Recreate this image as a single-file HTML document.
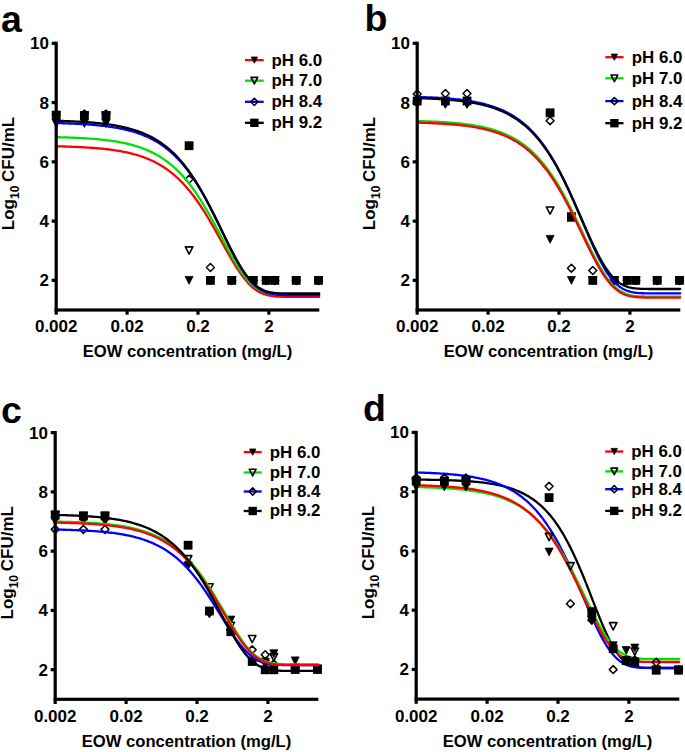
<!DOCTYPE html>
<html><head><meta charset="utf-8"><style>
html,body{margin:0;padding:0;background:#fff;width:685px;height:752px;overflow:hidden}
svg{display:block}
</style></head><body>
<svg width="685" height="752" viewBox="0 0 685 752" font-family='"Liberation Sans", sans-serif' font-weight="bold">
<g><path d="M52.2 119.6L60.2 119.6L56.2 127.4Z" fill="#000" stroke="#000" stroke-width="0.8" stroke-linejoin="round"/><path d="M80.4 119.6L88.4 119.6L84.4 127.4Z" fill="#000" stroke="#000" stroke-width="0.8" stroke-linejoin="round"/><path d="M102 119.6L110 119.6L106 127.4Z" fill="#000" stroke="#000" stroke-width="0.8" stroke-linejoin="round"/><path d="M185.1 276.5L193.1 276.5L189.1 284.3Z" fill="#000" stroke="#000" stroke-width="0.8" stroke-linejoin="round"/><path d="M206.4 276.5L214.4 276.5L210.4 284.3Z" fill="#000" stroke="#000" stroke-width="0.8" stroke-linejoin="round"/><path d="M227.8 276.5L235.8 276.5L231.8 284.3Z" fill="#000" stroke="#000" stroke-width="0.8" stroke-linejoin="round"/><path d="M249.2 276.5L257.2 276.5L253.2 284.3Z" fill="#000" stroke="#000" stroke-width="0.8" stroke-linejoin="round"/><path d="M262.2 276.5L270.2 276.5L266.2 284.3Z" fill="#000" stroke="#000" stroke-width="0.8" stroke-linejoin="round"/><path d="M270.8 276.5L278.8 276.5L274.8 284.3Z" fill="#000" stroke="#000" stroke-width="0.8" stroke-linejoin="round"/><path d="M292.2 276.5L300.2 276.5L296.2 284.3Z" fill="#000" stroke="#000" stroke-width="0.8" stroke-linejoin="round"/><path d="M314.5 276.5L322.5 276.5L318.5 284.3Z" fill="#000" stroke="#000" stroke-width="0.8" stroke-linejoin="round"/><path d="M52.45 111.65L59.95 111.65L56.2 118.95Z" fill="none" stroke="#000" stroke-width="1.6" stroke-linejoin="round"/><path d="M80.65 111.85L88.15 111.85L84.4 119.15Z" fill="none" stroke="#000" stroke-width="1.6" stroke-linejoin="round"/><path d="M102.25 111.85L109.75 111.85L106 119.15Z" fill="none" stroke="#000" stroke-width="1.6" stroke-linejoin="round"/><path d="M185.35 246.85L192.85 246.85L189.1 254.15Z" fill="none" stroke="#000" stroke-width="1.6" stroke-linejoin="round"/><path d="M206.65 276.75L214.15 276.75L210.4 284.05Z" fill="none" stroke="#000" stroke-width="1.6" stroke-linejoin="round"/><path d="M228.05 276.75L235.55 276.75L231.8 284.05Z" fill="none" stroke="#000" stroke-width="1.6" stroke-linejoin="round"/><path d="M249.45 276.75L256.95 276.75L253.2 284.05Z" fill="none" stroke="#000" stroke-width="1.6" stroke-linejoin="round"/><path d="M262.45 276.75L269.95 276.75L266.2 284.05Z" fill="none" stroke="#000" stroke-width="1.6" stroke-linejoin="round"/><path d="M271.05 276.75L278.55 276.75L274.8 284.05Z" fill="none" stroke="#000" stroke-width="1.6" stroke-linejoin="round"/><path d="M292.45 276.75L299.95 276.75L296.2 284.05Z" fill="none" stroke="#000" stroke-width="1.6" stroke-linejoin="round"/><path d="M314.75 276.75L322.25 276.75L318.5 284.05Z" fill="none" stroke="#000" stroke-width="1.6" stroke-linejoin="round"/><path d="M56.2 110.55L60.15 114.5L56.2 118.45L52.25 114.5Z" fill="none" stroke="#000" stroke-width="1.5" stroke-linejoin="round"/><path d="M84.4 110.05L88.35 114L84.4 117.95L80.45 114Z" fill="none" stroke="#000" stroke-width="1.5" stroke-linejoin="round"/><path d="M106 110.05L109.95 114L106 117.95L102.05 114Z" fill="none" stroke="#000" stroke-width="1.5" stroke-linejoin="round"/><path d="M189.1 175.35L193.05 179.3L189.1 183.25L185.15 179.3Z" fill="none" stroke="#000" stroke-width="1.5" stroke-linejoin="round"/><path d="M210.4 263.55L214.35 267.5L210.4 271.45L206.45 267.5Z" fill="none" stroke="#000" stroke-width="1.5" stroke-linejoin="round"/><path d="M231.8 276.45L235.75 280.4L231.8 284.35L227.85 280.4Z" fill="none" stroke="#000" stroke-width="1.5" stroke-linejoin="round"/><path d="M253.2 276.45L257.15 280.4L253.2 284.35L249.25 280.4Z" fill="none" stroke="#000" stroke-width="1.5" stroke-linejoin="round"/><path d="M266.2 276.45L270.15 280.4L266.2 284.35L262.25 280.4Z" fill="none" stroke="#000" stroke-width="1.5" stroke-linejoin="round"/><path d="M274.8 276.45L278.75 280.4L274.8 284.35L270.85 280.4Z" fill="none" stroke="#000" stroke-width="1.5" stroke-linejoin="round"/><path d="M296.2 276.45L300.15 280.4L296.2 284.35L292.25 280.4Z" fill="none" stroke="#000" stroke-width="1.5" stroke-linejoin="round"/><path d="M318.5 276.45L322.45 280.4L318.5 284.35L314.55 280.4Z" fill="none" stroke="#000" stroke-width="1.5" stroke-linejoin="round"/><rect x="51.8" y="110.9" width="8.8" height="8.8" fill="#000"/><rect x="80" y="111.1" width="8.8" height="8.8" fill="#000"/><rect x="101.6" y="111.1" width="8.8" height="8.8" fill="#000"/><rect x="184.7" y="141.3" width="8.8" height="8.8" fill="#000"/><rect x="206" y="276" width="8.8" height="8.8" fill="#000"/><rect x="227.4" y="276" width="8.8" height="8.8" fill="#000"/><rect x="248.8" y="276" width="8.8" height="8.8" fill="#000"/><rect x="261.8" y="276" width="8.8" height="8.8" fill="#000"/><rect x="270.4" y="276" width="8.8" height="8.8" fill="#000"/><rect x="291.8" y="276" width="8.8" height="8.8" fill="#000"/><rect x="314.1" y="276" width="8.8" height="8.8" fill="#000"/><path d="M56.2,146.31 L57.84,146.35 L59.49,146.39 L61.13,146.43 L62.78,146.47 L64.42,146.52 L66.06,146.57 L67.71,146.63 L69.35,146.68 L70.99,146.74 L72.64,146.8 L74.28,146.87 L75.93,146.94 L77.57,147.01 L79.21,147.09 L80.86,147.17 L82.5,147.25 L84.14,147.34 L85.79,147.44 L87.43,147.54 L89.08,147.65 L90.72,147.76 L92.36,147.87 L94.01,148 L95.65,148.13 L97.29,148.27 L98.94,148.41 L100.58,148.56 L102.22,148.72 L103.87,148.89 L105.51,149.07 L107.16,149.26 L108.8,149.46 L110.44,149.67 L112.09,149.89 L113.73,150.12 L115.38,150.36 L117.02,150.62 L118.66,150.89 L120.31,151.17 L121.95,151.47 L123.59,151.79 L125.24,152.12 L126.88,152.47 L128.53,152.84 L130.17,153.22 L131.81,153.63 L133.46,154.06 L135.1,154.51 L136.74,154.98 L138.39,155.48 L140.03,156 L141.68,156.55 L143.32,157.13 L144.96,157.73 L146.61,158.37 L148.25,159.04 L149.89,159.74 L151.54,160.48 L153.18,161.25 L154.82,162.06 L156.47,162.91 L158.11,163.8 L159.76,164.73 L161.4,165.7 L163.04,166.73 L164.69,167.79 L166.33,168.91 L167.98,170.08 L169.62,171.3 L171.26,172.58 L172.91,173.91 L174.55,175.3 L176.19,176.75 L177.84,178.26 L179.48,179.83 L181.12,181.46 L182.77,183.16 L184.41,184.93 L186.06,186.76 L187.7,188.66 L189.34,190.63 L190.99,192.67 L192.63,194.78 L194.27,196.96 L195.92,199.2 L197.56,201.52 L199.21,203.9 L200.85,206.35 L202.49,208.87 L204.14,211.44 L205.78,214.08 L207.43,216.77 L209.07,219.51 L210.71,222.31 L212.36,225.14 L214,228.02 L215.64,230.93 L217.29,233.86 L218.93,236.82 L220.57,239.79 L222.22,242.76 L223.86,245.72 L225.51,248.68 L227.15,251.61 L228.79,254.51 L230.44,257.36 L232.08,260.17 L233.73,262.91 L235.37,265.58 L237.01,268.17 L238.66,270.68 L240.3,273.08 L241.94,275.37 L243.59,277.56 L245.23,279.62 L246.88,281.56 L248.52,283.37 L250.16,285.05 L251.81,286.59 L253.45,288 L255.09,289.28 L256.74,290.43 L258.38,291.46 L260.02,292.37 L261.67,293.16 L263.31,293.85 L264.96,294.44 L266.6,294.93 L268.24,295.35 L269.89,295.69 L271.53,295.98 L273.18,296.2 L274.82,296.38 L276.46,296.52 L278.11,296.63 L279.75,296.71 L281.39,296.77 L283.04,296.81 L284.68,296.84 L286.32,296.86 L287.97,296.87 L289.61,296.88 L291.26,296.89 L292.9,296.89 L294.54,296.9 L296.19,296.9 L297.83,296.9 L299.48,296.9 L301.12,296.9 L302.76,296.9 L304.41,296.9 L306.05,296.9 L307.69,296.9 L309.34,296.9 L310.98,296.9 L312.62,296.9 L314.27,296.9 L315.91,296.9 L317.56,296.9 L319.2,296.9" fill="none" stroke="#ff0000" stroke-width="2.3" stroke-linecap="round"/><path d="M56.2,137.15 L57.84,137.19 L59.49,137.23 L61.13,137.28 L62.78,137.32 L64.42,137.37 L66.06,137.43 L67.71,137.48 L69.35,137.54 L70.99,137.6 L72.64,137.67 L74.28,137.74 L75.93,137.81 L77.57,137.89 L79.21,137.97 L80.86,138.06 L82.5,138.15 L84.14,138.24 L85.79,138.34 L87.43,138.45 L89.08,138.56 L90.72,138.68 L92.36,138.8 L94.01,138.93 L95.65,139.07 L97.29,139.22 L98.94,139.37 L100.58,139.53 L102.22,139.7 L103.87,139.88 L105.51,140.07 L107.16,140.27 L108.8,140.48 L110.44,140.7 L112.09,140.93 L113.73,141.17 L115.38,141.43 L117.02,141.7 L118.66,141.99 L120.31,142.29 L121.95,142.6 L123.59,142.94 L125.24,143.29 L126.88,143.66 L128.53,144.05 L130.17,144.45 L131.81,144.88 L133.46,145.33 L135.1,145.81 L136.74,146.31 L138.39,146.83 L140.03,147.39 L141.68,147.97 L143.32,148.58 L144.96,149.22 L146.61,149.89 L148.25,150.59 L149.89,151.33 L151.54,152.11 L153.18,152.93 L154.82,153.78 L156.47,154.68 L158.11,155.61 L159.76,156.6 L161.4,157.63 L163.04,158.71 L164.69,159.83 L166.33,161.01 L167.98,162.25 L169.62,163.54 L171.26,164.88 L172.91,166.29 L174.55,167.75 L176.19,169.28 L177.84,170.87 L179.48,172.53 L181.12,174.25 L182.77,176.04 L184.41,177.9 L186.06,179.83 L187.7,181.84 L189.34,183.91 L190.99,186.06 L192.63,188.28 L194.27,190.57 L195.92,192.94 L197.56,195.37 L199.21,197.88 L200.85,200.46 L202.49,203.1 L204.14,205.81 L205.78,208.58 L207.43,211.41 L209.07,214.29 L210.71,217.23 L212.36,220.21 L214,223.23 L215.64,226.28 L217.29,229.36 L218.93,232.45 L220.57,235.56 L222.22,238.68 L223.86,241.78 L225.51,244.87 L227.15,247.94 L228.79,250.97 L230.44,253.95 L232.08,256.88 L233.73,259.74 L235.37,262.53 L237.01,265.23 L238.66,267.84 L240.3,270.34 L241.94,272.72 L243.59,274.99 L245.23,277.13 L246.88,279.14 L248.52,281.01 L250.16,282.75 L251.81,284.35 L253.45,285.8 L255.09,287.12 L256.74,288.31 L258.38,289.36 L260.02,290.29 L261.67,291.1 L263.31,291.81 L264.96,292.41 L266.6,292.92 L268.24,293.34 L269.89,293.69 L271.53,293.97 L273.18,294.2 L274.82,294.38 L276.46,294.52 L278.11,294.63 L279.75,294.71 L281.39,294.77 L283.04,294.81 L284.68,294.84 L286.32,294.86 L287.97,294.88 L289.61,294.88 L291.26,294.89 L292.9,294.89 L294.54,294.9 L296.19,294.9 L297.83,294.9 L299.48,294.9 L301.12,294.9 L302.76,294.9 L304.41,294.9 L306.05,294.9 L307.69,294.9 L309.34,294.9 L310.98,294.9 L312.62,294.9 L314.27,294.9 L315.91,294.9 L317.56,294.9 L319.2,294.9" fill="none" stroke="#00e000" stroke-width="2.3" stroke-linecap="round"/><path d="M56.2,123.09 L57.84,123.13 L59.49,123.17 L61.13,123.22 L62.78,123.27 L64.42,123.33 L66.06,123.38 L67.71,123.44 L69.35,123.5 L70.99,123.57 L72.64,123.64 L74.28,123.71 L75.93,123.79 L77.57,123.87 L79.21,123.96 L80.86,124.05 L82.5,124.14 L84.14,124.24 L85.79,124.35 L87.43,124.46 L89.08,124.58 L90.72,124.7 L92.36,124.83 L94.01,124.97 L95.65,125.11 L97.29,125.27 L98.94,125.43 L100.58,125.6 L102.22,125.78 L103.87,125.97 L105.51,126.16 L107.16,126.37 L108.8,126.59 L110.44,126.83 L112.09,127.07 L113.73,127.33 L115.38,127.6 L117.02,127.89 L118.66,128.19 L120.31,128.51 L121.95,128.84 L123.59,129.19 L125.24,129.56 L126.88,129.95 L128.53,130.36 L130.17,130.79 L131.81,131.24 L133.46,131.72 L135.1,132.22 L136.74,132.75 L138.39,133.3 L140.03,133.89 L141.68,134.5 L143.32,135.14 L144.96,135.82 L146.61,136.53 L148.25,137.27 L149.89,138.05 L151.54,138.88 L153.18,139.74 L154.82,140.64 L156.47,141.59 L158.11,142.58 L159.76,143.62 L161.4,144.71 L163.04,145.85 L164.69,147.05 L166.33,148.3 L167.98,149.6 L169.62,150.97 L171.26,152.4 L172.91,153.89 L174.55,155.44 L176.19,157.06 L177.84,158.75 L179.48,160.51 L181.12,162.34 L182.77,164.25 L184.41,166.23 L186.06,168.28 L187.7,170.42 L189.34,172.63 L190.99,174.92 L192.63,177.29 L194.27,179.74 L195.92,182.26 L197.56,184.87 L199.21,187.55 L200.85,190.31 L202.49,193.15 L204.14,196.06 L205.78,199.03 L207.43,202.08 L209.07,205.18 L210.71,208.35 L212.36,211.56 L214,214.83 L215.64,218.13 L217.29,221.47 L218.93,224.84 L220.57,228.22 L222.22,231.61 L223.86,235 L225.51,238.39 L227.15,241.75 L228.79,245.08 L230.44,248.36 L232.08,251.6 L233.73,254.77 L235.37,257.86 L237.01,260.86 L238.66,263.77 L240.3,266.57 L241.94,269.26 L243.59,271.81 L245.23,274.24 L246.88,276.52 L248.52,278.66 L250.16,280.65 L251.81,282.49 L253.45,284.17 L255.09,285.71 L256.74,287.09 L258.38,288.34 L260.02,289.44 L261.67,290.4 L263.31,291.25 L264.96,291.97 L266.6,292.59 L268.24,293.11 L269.89,293.54 L271.53,293.9 L273.18,294.18 L274.82,294.41 L276.46,294.59 L278.11,294.73 L279.75,294.84 L281.39,294.92 L283.04,294.97 L284.68,295.01 L286.32,295.04 L287.97,295.06 L289.61,295.08 L291.26,295.09 L292.9,295.09 L294.54,295.1 L296.19,295.1 L297.83,295.1 L299.48,295.1 L301.12,295.1 L302.76,295.1 L304.41,295.1 L306.05,295.1 L307.69,295.1 L309.34,295.1 L310.98,295.1 L312.62,295.1 L314.27,295.1 L315.91,295.1 L317.56,295.1 L319.2,295.1" fill="none" stroke="#0000ff" stroke-width="2.3" stroke-linecap="round"/><path d="M56.2,120.81 L57.84,120.86 L59.49,120.9 L61.13,120.95 L62.78,121.01 L64.42,121.06 L66.06,121.12 L67.71,121.18 L69.35,121.25 L70.99,121.31 L72.64,121.39 L74.28,121.46 L75.93,121.54 L77.57,121.62 L79.21,121.71 L80.86,121.81 L82.5,121.91 L84.14,122.01 L85.79,122.12 L87.43,122.23 L89.08,122.36 L90.72,122.48 L92.36,122.62 L94.01,122.76 L95.65,122.91 L97.29,123.07 L98.94,123.24 L100.58,123.41 L102.22,123.6 L103.87,123.79 L105.51,124 L107.16,124.21 L108.8,124.44 L110.44,124.68 L112.09,124.94 L113.73,125.2 L115.38,125.48 L117.02,125.78 L118.66,126.09 L120.31,126.42 L121.95,126.76 L123.59,127.13 L125.24,127.51 L126.88,127.91 L128.53,128.33 L130.17,128.78 L131.81,129.25 L133.46,129.74 L135.1,130.26 L136.74,130.8 L138.39,131.38 L140.03,131.98 L141.68,132.61 L143.32,133.27 L144.96,133.97 L146.61,134.7 L148.25,135.47 L149.89,136.28 L151.54,137.13 L153.18,138.02 L154.82,138.95 L156.47,139.93 L158.11,140.95 L159.76,142.02 L161.4,143.15 L163.04,144.32 L164.69,145.55 L166.33,146.84 L167.98,148.18 L169.62,149.59 L171.26,151.06 L172.91,152.59 L174.55,154.19 L176.19,155.85 L177.84,157.59 L179.48,159.4 L181.12,161.28 L182.77,163.23 L184.41,165.26 L186.06,167.37 L187.7,169.56 L189.34,171.82 L190.99,174.17 L192.63,176.59 L194.27,179.1 L195.92,181.68 L197.56,184.34 L199.21,187.08 L200.85,189.89 L202.49,192.78 L204.14,195.74 L205.78,198.77 L207.43,201.86 L209.07,205.01 L210.71,208.22 L212.36,211.48 L214,214.78 L215.64,218.12 L217.29,221.48 L218.93,224.87 L220.57,228.28 L222.22,231.68 L223.86,235.09 L225.51,238.47 L227.15,241.83 L228.79,245.15 L230.44,248.42 L232.08,251.63 L233.73,254.77 L235.37,257.83 L237.01,260.79 L238.66,263.65 L240.3,266.4 L241.94,269.02 L243.59,271.51 L245.23,273.87 L246.88,276.08 L248.52,278.14 L250.16,280.05 L251.81,281.81 L253.45,283.42 L255.09,284.88 L256.74,286.19 L258.38,287.35 L260.02,288.38 L261.67,289.28 L263.31,290.06 L264.96,290.72 L266.6,291.29 L268.24,291.76 L269.89,292.15 L271.53,292.46 L273.18,292.72 L274.82,292.92 L276.46,293.07 L278.11,293.19 L279.75,293.28 L281.39,293.35 L283.04,293.4 L284.68,293.43 L286.32,293.46 L287.97,293.47 L289.61,293.48 L291.26,293.49 L292.9,293.49 L294.54,293.5 L296.19,293.5 L297.83,293.5 L299.48,293.5 L301.12,293.5 L302.76,293.5 L304.41,293.5 L306.05,293.5 L307.69,293.5 L309.34,293.5 L310.98,293.5 L312.62,293.5 L314.27,293.5 L315.91,293.5 L317.56,293.5 L319.2,293.5" fill="none" stroke="#000000" stroke-width="2.3" stroke-linecap="round"/><rect x="54.6" y="41.73" width="3.2" height="272.97" fill="#000"/><rect x="54.6" y="308.4" width="264.7" height="3.2" fill="#000"/><rect x="51.7" y="41.73" width="4.5" height="3.2" fill="#000"/><text x="49" y="49.33" font-size="17" text-anchor="end">10</text><rect x="51.7" y="100.99" width="4.5" height="3.2" fill="#000"/><text x="49" y="108.59" font-size="17" text-anchor="end">8</text><rect x="51.7" y="160.25" width="4.5" height="3.2" fill="#000"/><text x="49" y="167.85" font-size="17" text-anchor="end">6</text><rect x="51.7" y="219.51" width="4.5" height="3.2" fill="#000"/><text x="49" y="227.11" font-size="17" text-anchor="end">4</text><rect x="51.7" y="278.77" width="4.5" height="3.2" fill="#000"/><text x="49" y="286.37" font-size="17" text-anchor="end">2</text><rect x="125.5" y="310" width="3.2" height="4.7" fill="#000"/><rect x="196.4" y="310" width="3.2" height="4.7" fill="#000"/><rect x="267.3" y="310" width="3.2" height="4.7" fill="#000"/><text x="56.2" y="332.4" font-size="17" text-anchor="middle">0.002</text><text x="127.1" y="332.4" font-size="17" text-anchor="middle">0.02</text><text x="198" y="332.4" font-size="17" text-anchor="middle">0.2</text><text x="268.9" y="332.4" font-size="17" text-anchor="middle">2</text><text x="187.5" y="357.4" font-size="16.9" text-anchor="middle" textLength="209.4" lengthAdjust="spacingAndGlyphs">EOW concentration (mg/L)</text><text transform="translate(13.8 173.5) rotate(-90)" font-size="17" text-anchor="middle">Log<tspan font-size="12" dy="5">10</tspan><tspan dy="-5" dx="-1"> CFU/mL</tspan></text><text x="1" y="32.2" font-size="37.5">a</text><rect x="245" y="58.95" width="18.7" height="2.3" fill="#ff0000"/><path d="M251.15 56.98L257.55 56.98L254.35 63.22Z" fill="#000" stroke="#000" stroke-width="0.8" stroke-linejoin="round"/><text x="271.5" y="65.5" font-size="15.8" textLength="50.6" lengthAdjust="spacingAndGlyphs">pH 6.0</text><rect x="245" y="79.55" width="18.7" height="2.3" fill="#00e000"/><path d="M250.97 77.42L257.73 77.42L254.35 83.98Z" fill="none" stroke="#000" stroke-width="1.6" stroke-linejoin="round"/><text x="271.5" y="86.1" font-size="15.8" textLength="50.6" lengthAdjust="spacingAndGlyphs">pH 7.0</text><rect x="245" y="100.65" width="18.7" height="2.3" fill="#0000ff"/><path d="M254.35 98.17L257.98 101.8L254.35 105.43L250.72 101.8Z" fill="none" stroke="#000" stroke-width="1.5" stroke-linejoin="round"/><text x="271.5" y="107.2" font-size="15.8" textLength="50.6" lengthAdjust="spacingAndGlyphs">pH 8.4</text><rect x="245" y="121.65" width="18.7" height="2.3" fill="#000000"/><rect x="250.17" y="118.62" width="8.36" height="8.36" fill="#000"/><text x="271.5" y="128.2" font-size="15.8" textLength="50.6" lengthAdjust="spacingAndGlyphs">pH 9.2</text></g>
<g><path d="M413.2 100.1L421.2 100.1L417.2 107.9Z" fill="#000" stroke="#000" stroke-width="0.8" stroke-linejoin="round"/><path d="M441.4 100.1L449.4 100.1L445.4 107.9Z" fill="#000" stroke="#000" stroke-width="0.8" stroke-linejoin="round"/><path d="M463 100.1L471 100.1L467 107.9Z" fill="#000" stroke="#000" stroke-width="0.8" stroke-linejoin="round"/><path d="M546.1 235.4L554.1 235.4L550.1 243.2Z" fill="#000" stroke="#000" stroke-width="0.8" stroke-linejoin="round"/><path d="M567.4 276.5L575.4 276.5L571.4 284.3Z" fill="#000" stroke="#000" stroke-width="0.8" stroke-linejoin="round"/><path d="M588.8 276.5L596.8 276.5L592.8 284.3Z" fill="#000" stroke="#000" stroke-width="0.8" stroke-linejoin="round"/><path d="M610.2 276.5L618.2 276.5L614.2 284.3Z" fill="#000" stroke="#000" stroke-width="0.8" stroke-linejoin="round"/><path d="M623.2 276.5L631.2 276.5L627.2 284.3Z" fill="#000" stroke="#000" stroke-width="0.8" stroke-linejoin="round"/><path d="M631.8 276.5L639.8 276.5L635.8 284.3Z" fill="#000" stroke="#000" stroke-width="0.8" stroke-linejoin="round"/><path d="M653.2 276.5L661.2 276.5L657.2 284.3Z" fill="#000" stroke="#000" stroke-width="0.8" stroke-linejoin="round"/><path d="M675.5 276.5L683.5 276.5L679.5 284.3Z" fill="#000" stroke="#000" stroke-width="0.8" stroke-linejoin="round"/><path d="M413.45 100.35L420.95 100.35L417.2 107.65Z" fill="none" stroke="#000" stroke-width="1.6" stroke-linejoin="round"/><path d="M441.65 100.35L449.15 100.35L445.4 107.65Z" fill="none" stroke="#000" stroke-width="1.6" stroke-linejoin="round"/><path d="M463.25 100.35L470.75 100.35L467 107.65Z" fill="none" stroke="#000" stroke-width="1.6" stroke-linejoin="round"/><path d="M546.35 206.95L553.85 206.95L550.1 214.25Z" fill="none" stroke="#000" stroke-width="1.6" stroke-linejoin="round"/><path d="M567.65 213.05L575.15 213.05L571.4 220.35Z" fill="none" stroke="#000" stroke-width="1.6" stroke-linejoin="round"/><path d="M589.05 276.75L596.55 276.75L592.8 284.05Z" fill="none" stroke="#000" stroke-width="1.6" stroke-linejoin="round"/><path d="M610.45 276.75L617.95 276.75L614.2 284.05Z" fill="none" stroke="#000" stroke-width="1.6" stroke-linejoin="round"/><path d="M623.45 276.75L630.95 276.75L627.2 284.05Z" fill="none" stroke="#000" stroke-width="1.6" stroke-linejoin="round"/><path d="M632.05 276.75L639.55 276.75L635.8 284.05Z" fill="none" stroke="#000" stroke-width="1.6" stroke-linejoin="round"/><path d="M653.45 276.75L660.95 276.75L657.2 284.05Z" fill="none" stroke="#000" stroke-width="1.6" stroke-linejoin="round"/><path d="M675.75 276.75L683.25 276.75L679.5 284.05Z" fill="none" stroke="#000" stroke-width="1.6" stroke-linejoin="round"/><path d="M417.2 90.05L421.15 94L417.2 97.95L413.25 94Z" fill="none" stroke="#000" stroke-width="1.5" stroke-linejoin="round"/><path d="M445.4 89.55L449.35 93.5L445.4 97.45L441.45 93.5Z" fill="none" stroke="#000" stroke-width="1.5" stroke-linejoin="round"/><path d="M467 89.55L470.95 93.5L467 97.45L463.05 93.5Z" fill="none" stroke="#000" stroke-width="1.5" stroke-linejoin="round"/><path d="M550.1 116.75L554.05 120.7L550.1 124.65L546.15 120.7Z" fill="none" stroke="#000" stroke-width="1.5" stroke-linejoin="round"/><path d="M571.4 264.25L575.35 268.2L571.4 272.15L567.45 268.2Z" fill="none" stroke="#000" stroke-width="1.5" stroke-linejoin="round"/><path d="M592.8 266.55L596.75 270.5L592.8 274.45L588.85 270.5Z" fill="none" stroke="#000" stroke-width="1.5" stroke-linejoin="round"/><path d="M614.2 276.45L618.15 280.4L614.2 284.35L610.25 280.4Z" fill="none" stroke="#000" stroke-width="1.5" stroke-linejoin="round"/><path d="M627.2 276.45L631.15 280.4L627.2 284.35L623.25 280.4Z" fill="none" stroke="#000" stroke-width="1.5" stroke-linejoin="round"/><path d="M635.8 276.45L639.75 280.4L635.8 284.35L631.85 280.4Z" fill="none" stroke="#000" stroke-width="1.5" stroke-linejoin="round"/><path d="M657.2 276.45L661.15 280.4L657.2 284.35L653.25 280.4Z" fill="none" stroke="#000" stroke-width="1.5" stroke-linejoin="round"/><path d="M679.5 276.45L683.45 280.4L679.5 284.35L675.55 280.4Z" fill="none" stroke="#000" stroke-width="1.5" stroke-linejoin="round"/><rect x="412.8" y="96.6" width="8.8" height="8.8" fill="#000"/><rect x="441" y="96.6" width="8.8" height="8.8" fill="#000"/><rect x="462.6" y="96.6" width="8.8" height="8.8" fill="#000"/><rect x="545.7" y="108.4" width="8.8" height="8.8" fill="#000"/><rect x="567" y="212.9" width="8.8" height="8.8" fill="#000"/><rect x="588.4" y="276" width="8.8" height="8.8" fill="#000"/><rect x="609.8" y="276" width="8.8" height="8.8" fill="#000"/><rect x="622.8" y="276" width="8.8" height="8.8" fill="#000"/><rect x="631.4" y="276" width="8.8" height="8.8" fill="#000"/><rect x="652.8" y="276" width="8.8" height="8.8" fill="#000"/><rect x="675.1" y="276" width="8.8" height="8.8" fill="#000"/><path d="M417.2,96.93 L418.84,96.98 L420.49,97.03 L422.13,97.09 L423.77,97.15 L425.42,97.21 L427.06,97.28 L428.71,97.35 L430.35,97.42 L431.99,97.5 L433.64,97.58 L435.28,97.67 L436.93,97.76 L438.57,97.86 L440.21,97.96 L441.86,98.06 L443.5,98.18 L445.14,98.3 L446.79,98.42 L448.43,98.55 L450.07,98.69 L451.72,98.84 L453.36,98.99 L455.01,99.16 L456.65,99.33 L458.29,99.51 L459.94,99.7 L461.58,99.9 L463.22,100.11 L464.87,100.33 L466.51,100.57 L468.16,100.82 L469.8,101.08 L471.44,101.35 L473.09,101.64 L474.73,101.94 L476.38,102.27 L478.02,102.6 L479.66,102.96 L481.31,103.33 L482.95,103.73 L484.59,104.14 L486.24,104.58 L487.88,105.04 L489.52,105.52 L491.17,106.03 L492.81,106.56 L494.46,107.13 L496.1,107.72 L497.74,108.34 L499.39,109 L501.03,109.68 L502.67,110.4 L504.32,111.16 L505.96,111.96 L507.61,112.8 L509.25,113.68 L510.89,114.6 L512.54,115.57 L514.18,116.58 L515.83,117.64 L517.47,118.76 L519.11,119.93 L520.76,121.15 L522.4,122.44 L524.04,123.78 L525.69,125.18 L527.33,126.65 L528.98,128.19 L530.62,129.79 L532.26,131.47 L533.91,133.22 L535.55,135.04 L537.19,136.95 L538.84,138.93 L540.48,140.99 L542.12,143.14 L543.77,145.37 L545.41,147.69 L547.06,150.09 L548.7,152.59 L550.34,155.17 L551.99,157.85 L553.63,160.61 L555.27,163.47 L556.92,166.41 L558.56,169.45 L560.21,172.57 L561.85,175.78 L563.49,179.07 L565.14,182.45 L566.78,185.9 L568.42,189.42 L570.07,193.01 L571.71,196.66 L573.36,200.37 L575,204.13 L576.64,207.94 L578.29,211.77 L579.93,215.63 L581.58,219.5 L583.22,223.38 L584.86,227.25 L586.51,231.09 L588.15,234.91 L589.79,238.69 L591.44,242.4 L593.08,246.05 L594.73,249.62 L596.37,253.09 L598.01,256.45 L599.66,259.69 L601.3,262.81 L602.94,265.78 L604.59,268.6 L606.23,271.27 L607.88,273.77 L609.52,276.11 L611.16,278.27 L612.81,280.26 L614.45,282.07 L616.09,283.71 L617.74,285.19 L619.38,286.5 L621.02,287.66 L622.67,288.67 L624.31,289.55 L625.96,290.3 L627.6,290.93 L629.24,291.46 L630.89,291.89 L632.53,292.24 L634.17,292.53 L635.82,292.75 L637.46,292.93 L639.11,293.06 L640.75,293.16 L642.39,293.23 L644.04,293.29 L645.68,293.33 L647.33,293.35 L648.97,293.37 L650.61,293.38 L652.26,293.39 L653.9,293.39 L655.54,293.4 L657.19,293.4 L658.83,293.4 L660.48,293.4 L662.12,293.4 L663.76,293.4 L665.41,293.4 L667.05,293.4 L668.69,293.4 L670.34,293.4 L671.98,293.4 L673.62,293.4 L675.27,293.4 L676.91,293.4 L678.56,293.4 L680.2,293.4" fill="none" stroke="#0000ff" stroke-width="2.3" stroke-linecap="round"/><path d="M417.2,98.13 L418.84,98.18 L420.49,98.23 L422.13,98.29 L423.77,98.35 L425.42,98.41 L427.06,98.47 L428.71,98.54 L430.35,98.62 L431.99,98.7 L433.64,98.78 L435.28,98.86 L436.93,98.95 L438.57,99.05 L440.21,99.15 L441.86,99.26 L443.5,99.37 L445.14,99.49 L446.79,99.61 L448.43,99.74 L450.07,99.88 L451.72,100.03 L453.36,100.18 L455.01,100.34 L456.65,100.51 L458.29,100.69 L459.94,100.88 L461.58,101.08 L463.22,101.29 L464.87,101.52 L466.51,101.75 L468.16,102 L469.8,102.26 L471.44,102.53 L473.09,102.82 L474.73,103.12 L476.38,103.44 L478.02,103.78 L479.66,104.13 L481.31,104.5 L482.95,104.89 L484.59,105.31 L486.24,105.74 L487.88,106.2 L489.52,106.68 L491.17,107.19 L492.81,107.72 L494.46,108.28 L496.1,108.87 L497.74,109.49 L499.39,110.14 L501.03,110.82 L502.67,111.54 L504.32,112.29 L505.96,113.09 L507.61,113.92 L509.25,114.79 L510.89,115.71 L512.54,116.67 L514.18,117.68 L515.83,118.73 L517.47,119.84 L519.11,121 L520.76,122.22 L522.4,123.49 L524.04,124.83 L525.69,126.22 L527.33,127.68 L528.98,129.2 L530.62,130.79 L532.26,132.45 L533.91,134.19 L535.55,136 L537.19,137.88 L538.84,139.84 L540.48,141.89 L542.12,144.01 L543.77,146.22 L545.41,148.51 L547.06,150.89 L548.7,153.35 L550.34,155.9 L551.99,158.54 L553.63,161.27 L555.27,164.09 L556.92,166.99 L558.56,169.98 L560.21,173.05 L561.85,176.21 L563.49,179.45 L565.14,182.76 L566.78,186.15 L568.42,189.6 L570.07,193.12 L571.71,196.7 L573.36,200.33 L575,204 L576.64,207.71 L578.29,211.45 L579.93,215.2 L581.58,218.97 L583.22,222.73 L584.86,226.48 L586.51,230.21 L588.15,233.9 L589.79,237.54 L591.44,241.13 L593.08,244.63 L594.73,248.06 L596.37,251.38 L598.01,254.6 L599.66,257.69 L601.3,260.65 L602.94,263.47 L604.59,266.15 L606.23,268.66 L607.88,271.02 L609.52,273.21 L611.16,275.23 L612.81,277.08 L614.45,278.76 L616.09,280.28 L617.74,281.64 L619.38,282.85 L621.02,283.9 L622.67,284.82 L624.31,285.61 L625.96,286.29 L627.6,286.85 L629.24,287.32 L630.89,287.7 L632.53,288.02 L634.17,288.26 L635.82,288.46 L637.46,288.61 L639.11,288.72 L640.75,288.8 L642.39,288.87 L644.04,288.91 L645.68,288.94 L647.33,288.96 L648.97,288.98 L650.61,288.99 L652.26,288.99 L653.9,288.99 L655.54,289 L657.19,289 L658.83,289 L660.48,289 L662.12,289 L663.76,289 L665.41,289 L667.05,289 L668.69,289 L670.34,289 L671.98,289 L673.62,289 L675.27,289 L676.91,289 L678.56,289 L680.2,289" fill="none" stroke="#000000" stroke-width="2.3" stroke-linecap="round"/><path d="M417.2,121.03 L418.84,121.08 L420.49,121.12 L422.13,121.17 L423.77,121.23 L425.42,121.28 L427.06,121.34 L428.71,121.41 L430.35,121.47 L431.99,121.54 L433.64,121.61 L435.28,121.69 L436.93,121.77 L438.57,121.86 L440.21,121.95 L441.86,122.04 L443.5,122.15 L445.14,122.25 L446.79,122.36 L448.43,122.48 L450.07,122.61 L451.72,122.74 L453.36,122.87 L455.01,123.02 L456.65,123.17 L458.29,123.33 L459.94,123.5 L461.58,123.68 L463.22,123.87 L464.87,124.07 L466.51,124.28 L468.16,124.5 L469.8,124.74 L471.44,124.98 L473.09,125.24 L474.73,125.51 L476.38,125.8 L478.02,126.1 L479.66,126.42 L481.31,126.75 L482.95,127.1 L484.59,127.48 L486.24,127.87 L487.88,128.28 L489.52,128.71 L491.17,129.16 L492.81,129.64 L494.46,130.14 L496.1,130.67 L497.74,131.23 L499.39,131.81 L501.03,132.43 L502.67,133.07 L504.32,133.75 L505.96,134.46 L507.61,135.21 L509.25,136 L510.89,136.82 L512.54,137.68 L514.18,138.59 L515.83,139.54 L517.47,140.54 L519.11,141.58 L520.76,142.68 L522.4,143.82 L524.04,145.02 L525.69,146.28 L527.33,147.59 L528.98,148.97 L530.62,150.4 L532.26,151.9 L533.91,153.46 L535.55,155.09 L537.19,156.79 L538.84,158.56 L540.48,160.41 L542.12,162.32 L543.77,164.32 L545.41,166.39 L547.06,168.54 L548.7,170.77 L550.34,173.08 L551.99,175.47 L553.63,177.94 L555.27,180.49 L556.92,183.12 L558.56,185.83 L560.21,188.63 L561.85,191.49 L563.49,194.43 L565.14,197.45 L566.78,200.53 L568.42,203.68 L570.07,206.89 L571.71,210.16 L573.36,213.47 L575,216.83 L576.64,220.23 L578.29,223.65 L579.93,227.1 L581.58,230.56 L583.22,234.03 L584.86,237.48 L586.51,240.92 L588.15,244.33 L589.79,247.71 L591.44,251.03 L593.08,254.29 L594.73,257.47 L596.37,260.58 L598.01,263.58 L599.66,266.48 L601.3,269.26 L602.94,271.92 L604.59,274.44 L606.23,276.82 L607.88,279.06 L609.52,281.15 L611.16,283.08 L612.81,284.85 L614.45,286.48 L616.09,287.94 L617.74,289.26 L619.38,290.44 L621.02,291.47 L622.67,292.38 L624.31,293.16 L625.96,293.83 L627.6,294.39 L629.24,294.86 L630.89,295.25 L632.53,295.57 L634.17,295.82 L635.82,296.02 L637.46,296.18 L639.11,296.3 L640.75,296.39 L642.39,296.45 L644.04,296.5 L645.68,296.53 L647.33,296.56 L648.97,296.57 L650.61,296.58 L652.26,296.59 L653.9,296.59 L655.54,296.6 L657.19,296.6 L658.83,296.6 L660.48,296.6 L662.12,296.6 L663.76,296.6 L665.41,296.6 L667.05,296.6 L668.69,296.6 L670.34,296.6 L671.98,296.6 L673.62,296.6 L675.27,296.6 L676.91,296.6 L678.56,296.6 L680.2,296.6" fill="none" stroke="#00e000" stroke-width="2.3" stroke-linecap="round"/><path d="M417.2,122.64 L418.84,122.69 L420.49,122.74 L422.13,122.79 L423.77,122.84 L425.42,122.9 L427.06,122.96 L428.71,123.02 L430.35,123.09 L431.99,123.16 L433.64,123.23 L435.28,123.31 L436.93,123.39 L438.57,123.48 L440.21,123.57 L441.86,123.67 L443.5,123.77 L445.14,123.88 L446.79,123.99 L448.43,124.11 L450.07,124.24 L451.72,124.37 L453.36,124.51 L455.01,124.66 L456.65,124.81 L458.29,124.98 L459.94,125.15 L461.58,125.33 L463.22,125.52 L464.87,125.72 L466.51,125.94 L468.16,126.16 L469.8,126.4 L471.44,126.64 L473.09,126.91 L474.73,127.18 L476.38,127.47 L478.02,127.78 L479.66,128.1 L481.31,128.44 L482.95,128.8 L484.59,129.17 L486.24,129.57 L487.88,129.98 L489.52,130.42 L491.17,130.88 L492.81,131.36 L494.46,131.87 L496.1,132.41 L497.74,132.97 L499.39,133.56 L501.03,134.18 L502.67,134.84 L504.32,135.52 L505.96,136.24 L507.61,137 L509.25,137.8 L510.89,138.63 L512.54,139.5 L514.18,140.42 L515.83,141.38 L517.47,142.39 L519.11,143.45 L520.76,144.56 L522.4,145.72 L524.04,146.93 L525.69,148.2 L527.33,149.52 L528.98,150.91 L530.62,152.36 L532.26,153.87 L533.91,155.45 L535.55,157.1 L537.19,158.81 L538.84,160.6 L540.48,162.46 L542.12,164.4 L543.77,166.41 L545.41,168.5 L547.06,170.67 L548.7,172.91 L550.34,175.24 L551.99,177.65 L553.63,180.13 L555.27,182.7 L556.92,185.35 L558.56,188.08 L560.21,190.88 L561.85,193.77 L563.49,196.72 L565.14,199.75 L566.78,202.84 L568.42,206 L570.07,209.21 L571.71,212.48 L573.36,215.8 L575,219.16 L576.64,222.56 L578.29,225.98 L579.93,229.42 L581.58,232.87 L583.22,236.33 L584.86,239.77 L586.51,243.19 L588.15,246.58 L589.79,249.92 L591.44,253.21 L593.08,256.44 L594.73,259.59 L596.37,262.65 L598.01,265.61 L599.66,268.47 L601.3,271.2 L602.94,273.81 L604.59,276.28 L606.23,278.61 L607.88,280.79 L609.52,282.82 L611.16,284.7 L612.81,286.42 L614.45,287.99 L616.09,289.4 L617.74,290.67 L619.38,291.8 L621.02,292.79 L622.67,293.65 L624.31,294.39 L625.96,295.02 L627.6,295.56 L629.24,296 L630.89,296.36 L632.53,296.66 L634.17,296.89 L635.82,297.08 L637.46,297.22 L639.11,297.33 L640.75,297.41 L642.39,297.47 L644.04,297.51 L645.68,297.54 L647.33,297.56 L648.97,297.58 L650.61,297.59 L652.26,297.59 L653.9,297.59 L655.54,297.6 L657.19,297.6 L658.83,297.6 L660.48,297.6 L662.12,297.6 L663.76,297.6 L665.41,297.6 L667.05,297.6 L668.69,297.6 L670.34,297.6 L671.98,297.6 L673.62,297.6 L675.27,297.6 L676.91,297.6 L678.56,297.6 L680.2,297.6" fill="none" stroke="#ff0000" stroke-width="2.3" stroke-linecap="round"/><rect x="415.6" y="41.73" width="3.2" height="272.97" fill="#000"/><rect x="415.6" y="308.4" width="264.7" height="3.2" fill="#000"/><rect x="412.7" y="41.73" width="4.5" height="3.2" fill="#000"/><text x="410" y="49.33" font-size="17" text-anchor="end">10</text><rect x="412.7" y="100.99" width="4.5" height="3.2" fill="#000"/><text x="410" y="108.59" font-size="17" text-anchor="end">8</text><rect x="412.7" y="160.25" width="4.5" height="3.2" fill="#000"/><text x="410" y="167.85" font-size="17" text-anchor="end">6</text><rect x="412.7" y="219.51" width="4.5" height="3.2" fill="#000"/><text x="410" y="227.11" font-size="17" text-anchor="end">4</text><rect x="412.7" y="278.77" width="4.5" height="3.2" fill="#000"/><text x="410" y="286.37" font-size="17" text-anchor="end">2</text><rect x="486.5" y="310" width="3.2" height="4.7" fill="#000"/><rect x="557.4" y="310" width="3.2" height="4.7" fill="#000"/><rect x="628.3" y="310" width="3.2" height="4.7" fill="#000"/><text x="417.2" y="332.4" font-size="17" text-anchor="middle">0.002</text><text x="488.1" y="332.4" font-size="17" text-anchor="middle">0.02</text><text x="559" y="332.4" font-size="17" text-anchor="middle">0.2</text><text x="629.9" y="332.4" font-size="17" text-anchor="middle">2</text><text x="548.5" y="357.4" font-size="16.9" text-anchor="middle" textLength="209.4" lengthAdjust="spacingAndGlyphs">EOW concentration (mg/L)</text><text transform="translate(374.8 173.5) rotate(-90)" font-size="17" text-anchor="middle">Log<tspan font-size="12" dy="5">10</tspan><tspan dy="-5" dx="-1"> CFU/mL</tspan></text><text x="364.5" y="31" font-size="37.5">b</text><rect x="605.3" y="56.05" width="18.2" height="2.3" fill="#ff0000"/><path d="M611.2 54.08L617.6 54.08L614.4 60.32Z" fill="#000" stroke="#000" stroke-width="0.8" stroke-linejoin="round"/><text x="631.8" y="62.6" font-size="15.8" textLength="50.6" lengthAdjust="spacingAndGlyphs">pH 6.0</text><rect x="605.3" y="77.15" width="18.2" height="2.3" fill="#00e000"/><path d="M611.02 75.02L617.77 75.02L614.4 81.58Z" fill="none" stroke="#000" stroke-width="1.6" stroke-linejoin="round"/><text x="631.8" y="83.7" font-size="15.8" textLength="50.6" lengthAdjust="spacingAndGlyphs">pH 7.0</text><rect x="605.3" y="99.95" width="18.2" height="2.3" fill="#0000ff"/><path d="M614.4 97.47L618.03 101.1L614.4 104.73L610.77 101.1Z" fill="none" stroke="#000" stroke-width="1.5" stroke-linejoin="round"/><text x="631.8" y="106.5" font-size="15.8" textLength="50.6" lengthAdjust="spacingAndGlyphs">pH 8.4</text><rect x="605.3" y="122.05" width="18.2" height="2.3" fill="#000000"/><rect x="610.22" y="119.02" width="8.36" height="8.36" fill="#000"/><text x="631.8" y="128.6" font-size="15.8" textLength="50.6" lengthAdjust="spacingAndGlyphs">pH 9.2</text></g>
<g><path d="M51.2 517.6L59.2 517.6L55.2 525.4Z" fill="#000" stroke="#000" stroke-width="0.8" stroke-linejoin="round"/><path d="M79.4 517.6L87.4 517.6L83.4 525.4Z" fill="#000" stroke="#000" stroke-width="0.8" stroke-linejoin="round"/><path d="M101 517.6L109 517.6L105 525.4Z" fill="#000" stroke="#000" stroke-width="0.8" stroke-linejoin="round"/><path d="M184.1 562.1L192.1 562.1L188.1 569.9Z" fill="#000" stroke="#000" stroke-width="0.8" stroke-linejoin="round"/><path d="M205.4 610.1L213.4 610.1L209.4 617.9Z" fill="#000" stroke="#000" stroke-width="0.8" stroke-linejoin="round"/><path d="M226.8 616.1L234.8 616.1L230.8 623.9Z" fill="#000" stroke="#000" stroke-width="0.8" stroke-linejoin="round"/><path d="M248.2 657.1L256.2 657.1L252.2 664.9Z" fill="#000" stroke="#000" stroke-width="0.8" stroke-linejoin="round"/><path d="M261.2 658L269.2 658L265.2 665.8Z" fill="#000" stroke="#000" stroke-width="0.8" stroke-linejoin="round"/><path d="M269.8 649.8L277.8 649.8L273.8 657.6Z" fill="#000" stroke="#000" stroke-width="0.8" stroke-linejoin="round"/><path d="M291.2 656.9L299.2 656.9L295.2 664.7Z" fill="#000" stroke="#000" stroke-width="0.8" stroke-linejoin="round"/><path d="M313.5 665.1L321.5 665.1L317.5 672.9Z" fill="#000" stroke="#000" stroke-width="0.8" stroke-linejoin="round"/><path d="M51.45 511.35L58.95 511.35L55.2 518.65Z" fill="none" stroke="#000" stroke-width="1.6" stroke-linejoin="round"/><path d="M79.65 512.35L87.15 512.35L83.4 519.65Z" fill="none" stroke="#000" stroke-width="1.6" stroke-linejoin="round"/><path d="M101.25 512.35L108.75 512.35L105 519.65Z" fill="none" stroke="#000" stroke-width="1.6" stroke-linejoin="round"/><path d="M184.35 555.65L191.85 555.65L188.1 562.95Z" fill="none" stroke="#000" stroke-width="1.6" stroke-linejoin="round"/><path d="M205.65 583.75L213.15 583.75L209.4 591.05Z" fill="none" stroke="#000" stroke-width="1.6" stroke-linejoin="round"/><path d="M227.05 622.25L234.55 622.25L230.8 629.55Z" fill="none" stroke="#000" stroke-width="1.6" stroke-linejoin="round"/><path d="M248.45 635.45L255.95 635.45L252.2 642.75Z" fill="none" stroke="#000" stroke-width="1.6" stroke-linejoin="round"/><path d="M261.45 660.35L268.95 660.35L265.2 667.65Z" fill="none" stroke="#000" stroke-width="1.6" stroke-linejoin="round"/><path d="M270.05 653.65L277.55 653.65L273.8 660.95Z" fill="none" stroke="#000" stroke-width="1.6" stroke-linejoin="round"/><path d="M291.45 664.35L298.95 664.35L295.2 671.65Z" fill="none" stroke="#000" stroke-width="1.6" stroke-linejoin="round"/><path d="M313.75 665.35L321.25 665.35L317.5 672.65Z" fill="none" stroke="#000" stroke-width="1.6" stroke-linejoin="round"/><path d="M55.2 525.45L59.15 529.4L55.2 533.35L51.25 529.4Z" fill="none" stroke="#000" stroke-width="1.5" stroke-linejoin="round"/><path d="M83.4 525.45L87.35 529.4L83.4 533.35L79.45 529.4Z" fill="none" stroke="#000" stroke-width="1.5" stroke-linejoin="round"/><path d="M105 525.45L108.95 529.4L105 533.35L101.05 529.4Z" fill="none" stroke="#000" stroke-width="1.5" stroke-linejoin="round"/><path d="M188.1 559.05L192.05 563L188.1 566.95L184.15 563Z" fill="none" stroke="#000" stroke-width="1.5" stroke-linejoin="round"/><path d="M209.4 608.55L213.35 612.5L209.4 616.45L205.45 612.5Z" fill="none" stroke="#000" stroke-width="1.5" stroke-linejoin="round"/><path d="M230.8 626.05L234.75 630L230.8 633.95L226.85 630Z" fill="none" stroke="#000" stroke-width="1.5" stroke-linejoin="round"/><path d="M252.2 645.85L256.15 649.8L252.2 653.75L248.25 649.8Z" fill="none" stroke="#000" stroke-width="1.5" stroke-linejoin="round"/><path d="M265.2 650.75L269.15 654.7L265.2 658.65L261.25 654.7Z" fill="none" stroke="#000" stroke-width="1.5" stroke-linejoin="round"/><path d="M273.8 660.05L277.75 664L273.8 667.95L269.85 664Z" fill="none" stroke="#000" stroke-width="1.5" stroke-linejoin="round"/><path d="M295.2 664.05L299.15 668L295.2 671.95L291.25 668Z" fill="none" stroke="#000" stroke-width="1.5" stroke-linejoin="round"/><path d="M317.5 665.05L321.45 669L317.5 672.95L313.55 669Z" fill="none" stroke="#000" stroke-width="1.5" stroke-linejoin="round"/><rect x="50.8" y="510.6" width="8.8" height="8.8" fill="#000"/><rect x="79" y="511.6" width="8.8" height="8.8" fill="#000"/><rect x="100.6" y="511.6" width="8.8" height="8.8" fill="#000"/><rect x="183.7" y="540.8" width="8.8" height="8.8" fill="#000"/><rect x="205" y="606.6" width="8.8" height="8.8" fill="#000"/><rect x="226.4" y="627.3" width="8.8" height="8.8" fill="#000"/><rect x="247.8" y="657.1" width="8.8" height="8.8" fill="#000"/><rect x="260.8" y="665.4" width="8.8" height="8.8" fill="#000"/><rect x="269.4" y="665.4" width="8.8" height="8.8" fill="#000"/><rect x="290.8" y="665.1" width="8.8" height="8.8" fill="#000"/><rect x="313.1" y="665.1" width="8.8" height="8.8" fill="#000"/><path d="M55.2,529.53 L56.84,529.57 L58.49,529.6 L60.13,529.64 L61.78,529.68 L63.42,529.73 L65.06,529.77 L66.71,529.82 L68.35,529.87 L69.99,529.92 L71.64,529.98 L73.28,530.04 L74.93,530.1 L76.57,530.16 L78.21,530.23 L79.86,530.31 L81.5,530.38 L83.14,530.46 L84.79,530.55 L86.43,530.64 L88.08,530.73 L89.72,530.83 L91.36,530.94 L93.01,531.05 L94.65,531.17 L96.29,531.29 L97.94,531.42 L99.58,531.56 L101.22,531.7 L102.87,531.85 L104.51,532.01 L106.16,532.18 L107.8,532.36 L109.44,532.55 L111.09,532.74 L112.73,532.95 L114.38,533.17 L116.02,533.4 L117.66,533.64 L119.31,533.9 L120.95,534.16 L122.59,534.45 L124.24,534.75 L125.88,535.06 L127.53,535.39 L129.17,535.73 L130.81,536.1 L132.46,536.48 L134.1,536.89 L135.74,537.31 L137.39,537.76 L139.03,538.22 L140.68,538.72 L142.32,539.23 L143.96,539.78 L145.61,540.35 L147.25,540.95 L148.89,541.58 L150.54,542.24 L152.18,542.93 L153.82,543.66 L155.47,544.42 L157.11,545.21 L158.76,546.05 L160.4,546.93 L162.04,547.84 L163.69,548.8 L165.33,549.8 L166.98,550.85 L168.62,551.95 L170.26,553.09 L171.91,554.29 L173.55,555.53 L175.19,556.83 L176.84,558.19 L178.48,559.6 L180.12,561.06 L181.77,562.59 L183.41,564.17 L185.06,565.82 L186.7,567.53 L188.34,569.29 L189.99,571.12 L191.63,573.02 L193.27,574.97 L194.92,576.99 L196.56,579.07 L198.21,581.21 L199.85,583.41 L201.49,585.67 L203.14,587.98 L204.78,590.35 L206.43,592.77 L208.07,595.24 L209.71,597.75 L211.36,600.3 L213,602.89 L214.64,605.5 L216.29,608.14 L217.93,610.8 L219.57,613.47 L221.22,616.15 L222.86,618.82 L224.51,621.48 L226.15,624.12 L227.79,626.73 L229.44,629.3 L231.08,631.83 L232.73,634.31 L234.37,636.72 L236.01,639.06 L237.66,641.32 L239.3,643.49 L240.94,645.56 L242.59,647.53 L244.23,649.4 L245.88,651.15 L247.52,652.79 L249.16,654.31 L250.81,655.71 L252.45,656.99 L254.09,658.16 L255.74,659.2 L257.38,660.13 L259.02,660.96 L260.67,661.68 L262.31,662.31 L263.96,662.84 L265.6,663.3 L267.24,663.68 L268.89,663.99 L270.53,664.25 L272.18,664.46 L273.82,664.62 L275.46,664.75 L277.11,664.85 L278.75,664.92 L280.39,664.97 L282.04,665.01 L283.68,665.04 L285.32,665.06 L286.97,665.08 L288.61,665.09 L290.26,665.09 L291.9,665.09 L293.54,665.1 L295.19,665.1 L296.83,665.1 L298.48,665.1 L300.12,665.1 L301.76,665.1 L303.41,665.1 L305.05,665.1 L306.69,665.1 L308.34,665.1 L309.98,665.1 L311.62,665.1 L313.27,665.1 L314.91,665.1 L316.56,665.1 L318.2,665.1" fill="none" stroke="#0000ff" stroke-width="2.3" stroke-linecap="round"/><path d="M55.2,521.59 L56.84,521.63 L58.49,521.66 L60.13,521.7 L61.78,521.74 L63.42,521.78 L65.06,521.82 L66.71,521.86 L68.35,521.91 L69.99,521.96 L71.64,522.01 L73.28,522.07 L74.93,522.13 L76.57,522.19 L78.21,522.25 L79.86,522.32 L81.5,522.39 L83.14,522.47 L84.79,522.55 L86.43,522.63 L88.08,522.72 L89.72,522.82 L91.36,522.92 L93.01,523.02 L94.65,523.13 L96.29,523.25 L97.94,523.37 L99.58,523.5 L101.22,523.63 L102.87,523.78 L104.51,523.93 L106.16,524.08 L107.8,524.25 L109.44,524.43 L111.09,524.61 L112.73,524.81 L114.38,525.02 L116.02,525.23 L117.66,525.46 L119.31,525.7 L120.95,525.95 L122.59,526.22 L124.24,526.5 L125.88,526.8 L127.53,527.11 L129.17,527.44 L130.81,527.78 L132.46,528.14 L134.1,528.52 L135.74,528.92 L137.39,529.35 L139.03,529.79 L140.68,530.26 L142.32,530.75 L143.96,531.26 L145.61,531.8 L147.25,532.37 L148.89,532.97 L150.54,533.59 L152.18,534.25 L153.82,534.94 L155.47,535.66 L157.11,536.42 L158.76,537.22 L160.4,538.05 L162.04,538.93 L163.69,539.84 L165.33,540.8 L166.98,541.8 L168.62,542.85 L170.26,543.95 L171.91,545.1 L173.55,546.29 L175.19,547.54 L176.84,548.85 L178.48,550.21 L180.12,551.63 L181.77,553.1 L183.41,554.64 L185.06,556.23 L186.7,557.89 L188.34,559.62 L189.99,561.4 L191.63,563.26 L193.27,565.17 L194.92,567.16 L196.56,569.21 L198.21,571.32 L199.85,573.5 L201.49,575.75 L203.14,578.05 L204.78,580.42 L206.43,582.85 L208.07,585.34 L209.71,587.88 L211.36,590.47 L213,593.1 L214.64,595.78 L216.29,598.5 L217.93,601.25 L219.57,604.03 L221.22,606.83 L222.86,609.64 L224.51,612.45 L226.15,615.27 L227.79,618.07 L229.44,620.85 L231.08,623.61 L232.73,626.32 L234.37,628.99 L236.01,631.61 L237.66,634.16 L239.3,636.63 L240.94,639.02 L242.59,641.32 L244.23,643.52 L245.88,645.61 L247.52,647.59 L249.16,649.46 L250.81,651.2 L252.45,652.82 L254.09,654.31 L255.74,655.68 L257.38,656.92 L259.02,658.04 L260.67,659.04 L262.31,659.92 L263.96,660.7 L265.6,661.37 L267.24,661.95 L268.89,662.44 L270.53,662.85 L272.18,663.19 L273.82,663.47 L275.46,663.69 L277.11,663.87 L278.75,664.01 L280.39,664.12 L282.04,664.2 L283.68,664.26 L285.32,664.3 L286.97,664.34 L288.61,664.36 L290.26,664.37 L291.9,664.38 L293.54,664.39 L295.19,664.39 L296.83,664.4 L298.48,664.4 L300.12,664.4 L301.76,664.4 L303.41,664.4 L305.05,664.4 L306.69,664.4 L308.34,664.4 L309.98,664.4 L311.62,664.4 L313.27,664.4 L314.91,664.4 L316.56,664.4 L318.2,664.4" fill="none" stroke="#00e000" stroke-width="2.3" stroke-linecap="round"/><path d="M55.2,522.61 L56.84,522.64 L58.49,522.68 L60.13,522.71 L61.78,522.75 L63.42,522.79 L65.06,522.84 L66.71,522.88 L68.35,522.93 L69.99,522.98 L71.64,523.03 L73.28,523.09 L74.93,523.15 L76.57,523.21 L78.21,523.28 L79.86,523.35 L81.5,523.42 L83.14,523.5 L84.79,523.58 L86.43,523.67 L88.08,523.76 L89.72,523.86 L91.36,523.96 L93.01,524.06 L94.65,524.17 L96.29,524.29 L97.94,524.42 L99.58,524.55 L101.22,524.69 L102.87,524.83 L104.51,524.99 L106.16,525.15 L107.8,525.32 L109.44,525.5 L111.09,525.69 L112.73,525.89 L114.38,526.1 L116.02,526.32 L117.66,526.55 L119.31,526.8 L120.95,527.06 L122.59,527.33 L124.24,527.62 L125.88,527.92 L127.53,528.23 L129.17,528.57 L130.81,528.92 L132.46,529.29 L134.1,529.68 L135.74,530.09 L137.39,530.52 L139.03,530.97 L140.68,531.44 L142.32,531.94 L143.96,532.47 L145.61,533.02 L147.25,533.6 L148.89,534.21 L150.54,534.85 L152.18,535.52 L153.82,536.22 L155.47,536.96 L157.11,537.73 L158.76,538.54 L160.4,539.39 L162.04,540.28 L163.69,541.21 L165.33,542.19 L166.98,543.21 L168.62,544.27 L170.26,545.39 L171.91,546.55 L173.55,547.77 L175.19,549.04 L176.84,550.37 L178.48,551.75 L180.12,553.19 L181.77,554.69 L183.41,556.25 L185.06,557.87 L186.7,559.55 L188.34,561.3 L189.99,563.11 L191.63,564.98 L193.27,566.92 L194.92,568.93 L196.56,571 L198.21,573.14 L199.85,575.34 L201.49,577.61 L203.14,579.94 L204.78,582.33 L206.43,584.78 L208.07,587.28 L209.71,589.83 L211.36,592.44 L213,595.09 L214.64,597.78 L216.29,600.5 L217.93,603.26 L219.57,606.04 L221.22,608.83 L222.86,611.64 L224.51,614.45 L226.15,617.25 L227.79,620.04 L229.44,622.8 L231.08,625.53 L232.73,628.22 L234.37,630.86 L236.01,633.44 L237.66,635.95 L239.3,638.38 L240.94,640.72 L242.59,642.97 L244.23,645.12 L245.88,647.16 L247.52,649.08 L249.16,650.89 L250.81,652.57 L252.45,654.13 L254.09,655.56 L255.74,656.87 L257.38,658.05 L259.02,659.11 L260.67,660.06 L262.31,660.89 L263.96,661.62 L265.6,662.25 L267.24,662.78 L268.89,663.24 L270.53,663.61 L272.18,663.92 L273.82,664.18 L275.46,664.38 L277.11,664.54 L278.75,664.66 L280.39,664.76 L282.04,664.83 L283.68,664.88 L285.32,664.92 L286.97,664.95 L288.61,664.97 L290.26,664.98 L291.9,664.99 L293.54,664.99 L295.19,665 L296.83,665 L298.48,665 L300.12,665 L301.76,665 L303.41,665 L305.05,665 L306.69,665 L308.34,665 L309.98,665 L311.62,665 L313.27,665 L314.91,665 L316.56,665 L318.2,665" fill="none" stroke="#ff0000" stroke-width="2.3" stroke-linecap="round"/><path d="M55.2,514.92 L56.84,514.96 L58.49,515 L60.13,515.05 L61.78,515.09 L63.42,515.14 L65.06,515.19 L66.71,515.25 L68.35,515.3 L69.99,515.37 L71.64,515.43 L73.28,515.5 L74.93,515.57 L76.57,515.64 L78.21,515.72 L79.86,515.8 L81.5,515.89 L83.14,515.98 L84.79,516.08 L86.43,516.18 L88.08,516.29 L89.72,516.4 L91.36,516.52 L93.01,516.65 L94.65,516.78 L96.29,516.92 L97.94,517.07 L99.58,517.23 L101.22,517.39 L102.87,517.56 L104.51,517.75 L106.16,517.94 L107.8,518.14 L109.44,518.36 L111.09,518.58 L112.73,518.82 L114.38,519.07 L116.02,519.33 L117.66,519.6 L119.31,519.9 L120.95,520.2 L122.59,520.52 L124.24,520.86 L125.88,521.22 L127.53,521.6 L129.17,521.99 L130.81,522.41 L132.46,522.84 L134.1,523.3 L135.74,523.79 L137.39,524.3 L139.03,524.83 L140.68,525.39 L142.32,525.98 L143.96,526.6 L145.61,527.25 L147.25,527.94 L148.89,528.65 L150.54,529.41 L152.18,530.2 L153.82,531.02 L155.47,531.89 L157.11,532.8 L158.76,533.76 L160.4,534.76 L162.04,535.8 L163.69,536.9 L165.33,538.04 L166.98,539.24 L168.62,540.49 L170.26,541.8 L171.91,543.16 L173.55,544.58 L175.19,546.07 L176.84,547.61 L178.48,549.22 L180.12,550.9 L181.77,552.64 L183.41,554.45 L185.06,556.33 L186.7,558.29 L188.34,560.31 L189.99,562.4 L191.63,564.57 L193.27,566.8 L194.92,569.11 L196.56,571.49 L198.21,573.94 L199.85,576.46 L201.49,579.05 L203.14,581.7 L204.78,584.41 L206.43,587.18 L208.07,590.01 L209.71,592.89 L211.36,595.82 L213,598.79 L214.64,601.79 L216.29,604.83 L217.93,607.88 L219.57,610.95 L221.22,614.03 L222.86,617.11 L224.51,620.17 L226.15,623.21 L227.79,626.22 L229.44,629.19 L231.08,632.11 L232.73,634.97 L234.37,637.76 L236.01,640.47 L237.66,643.08 L239.3,645.6 L240.94,648 L242.59,650.3 L244.23,652.47 L245.88,654.51 L247.52,656.42 L249.16,658.19 L250.81,659.82 L252.45,661.32 L254.09,662.68 L255.74,663.91 L257.38,665.01 L259.02,665.98 L260.67,666.83 L262.31,667.57 L263.96,668.2 L265.6,668.74 L267.24,669.19 L268.89,669.57 L270.53,669.87 L272.18,670.12 L273.82,670.32 L275.46,670.47 L277.11,670.59 L278.75,670.68 L280.39,670.75 L282.04,670.79 L283.68,670.83 L285.32,670.85 L286.97,670.87 L288.61,670.88 L290.26,670.89 L291.9,670.89 L293.54,670.9 L295.19,670.9 L296.83,670.9 L298.48,670.9 L300.12,670.9 L301.76,670.9 L303.41,670.9 L305.05,670.9 L306.69,670.9 L308.34,670.9 L309.98,670.9 L311.62,670.9 L313.27,670.9 L314.91,670.9 L316.56,670.9 L318.2,670.9" fill="none" stroke="#000000" stroke-width="2.3" stroke-linecap="round"/><rect x="53.6" y="431.03" width="3.2" height="272.97" fill="#000"/><rect x="53.6" y="697.7" width="264.7" height="3.2" fill="#000"/><rect x="50.7" y="431.03" width="4.5" height="3.2" fill="#000"/><text x="48" y="438.63" font-size="17" text-anchor="end">10</text><rect x="50.7" y="490.29" width="4.5" height="3.2" fill="#000"/><text x="48" y="497.89" font-size="17" text-anchor="end">8</text><rect x="50.7" y="549.55" width="4.5" height="3.2" fill="#000"/><text x="48" y="557.15" font-size="17" text-anchor="end">6</text><rect x="50.7" y="608.81" width="4.5" height="3.2" fill="#000"/><text x="48" y="616.41" font-size="17" text-anchor="end">4</text><rect x="50.7" y="668.07" width="4.5" height="3.2" fill="#000"/><text x="48" y="675.67" font-size="17" text-anchor="end">2</text><rect x="124.5" y="699.3" width="3.2" height="4.7" fill="#000"/><rect x="195.4" y="699.3" width="3.2" height="4.7" fill="#000"/><rect x="266.3" y="699.3" width="3.2" height="4.7" fill="#000"/><text x="55.2" y="721.7" font-size="17" text-anchor="middle">0.002</text><text x="126.1" y="721.7" font-size="17" text-anchor="middle">0.02</text><text x="197" y="721.7" font-size="17" text-anchor="middle">0.2</text><text x="267.9" y="721.7" font-size="17" text-anchor="middle">2</text><text x="186.5" y="746.7" font-size="16.9" text-anchor="middle" textLength="209.4" lengthAdjust="spacingAndGlyphs">EOW concentration (mg/L)</text><text transform="translate(12.8 562.8) rotate(-90)" font-size="17" text-anchor="middle">Log<tspan font-size="12" dy="5">10</tspan><tspan dy="-5" dx="-1"> CFU/mL</tspan></text><text x="1" y="422.5" font-size="37.5">c</text><rect x="243.7" y="450.95" width="18" height="2.3" fill="#ff0000"/><path d="M249.5 448.98L255.9 448.98L252.7 455.22Z" fill="#000" stroke="#000" stroke-width="0.8" stroke-linejoin="round"/><text x="269.8" y="457.5" font-size="15.8" textLength="50.6" lengthAdjust="spacingAndGlyphs">pH 6.0</text><rect x="243.7" y="471.35" width="18" height="2.3" fill="#00e000"/><path d="M249.32 469.21L256.07 469.21L252.7 475.79Z" fill="none" stroke="#000" stroke-width="1.6" stroke-linejoin="round"/><text x="269.8" y="477.9" font-size="15.8" textLength="50.6" lengthAdjust="spacingAndGlyphs">pH 7.0</text><rect x="243.7" y="490.35" width="18" height="2.3" fill="#0000ff"/><path d="M252.7 487.87L256.33 491.5L252.7 495.13L249.07 491.5Z" fill="none" stroke="#000" stroke-width="1.5" stroke-linejoin="round"/><text x="269.8" y="496.9" font-size="15.8" textLength="50.6" lengthAdjust="spacingAndGlyphs">pH 8.4</text><rect x="243.7" y="509.85" width="18" height="2.3" fill="#000000"/><rect x="248.52" y="506.82" width="8.36" height="8.36" fill="#000"/><text x="269.8" y="516.4" font-size="15.8" textLength="50.6" lengthAdjust="spacingAndGlyphs">pH 9.2</text></g>
<g><path d="M416.2,479.58 L417.84,479.6 L419.49,479.62 L421.13,479.64 L422.77,479.66 L424.42,479.68 L426.06,479.7 L427.71,479.73 L429.35,479.76 L430.99,479.78 L432.64,479.81 L434.28,479.85 L435.93,479.88 L437.57,479.92 L439.21,479.96 L440.86,480 L442.5,480.04 L444.14,480.09 L445.79,480.14 L447.43,480.19 L449.07,480.25 L450.72,480.3 L452.36,480.37 L454.01,480.43 L455.65,480.51 L457.29,480.58 L458.94,480.66 L460.58,480.75 L462.22,480.84 L463.87,480.93 L465.51,481.03 L467.16,481.14 L468.8,481.26 L470.44,481.38 L472.09,481.51 L473.73,481.65 L475.38,481.79 L477.02,481.95 L478.66,482.11 L480.31,482.29 L481.95,482.47 L483.59,482.67 L485.24,482.88 L486.88,483.1 L488.52,483.34 L490.17,483.59 L491.81,483.86 L493.46,484.14 L495.1,484.44 L496.74,484.75 L498.39,485.09 L500.03,485.45 L501.67,485.83 L503.32,486.23 L504.96,486.66 L506.61,487.11 L508.25,487.59 L509.89,488.1 L511.54,488.63 L513.18,489.2 L514.83,489.81 L516.47,490.45 L518.11,491.12 L519.76,491.84 L521.4,492.6 L523.04,493.4 L524.69,494.25 L526.33,495.15 L527.98,496.1 L529.62,497.1 L531.26,498.16 L532.91,499.28 L534.55,500.46 L536.19,501.7 L537.84,503.02 L539.48,504.4 L541.12,505.86 L542.77,507.4 L544.41,509.01 L546.06,510.71 L547.7,512.5 L549.34,514.38 L550.99,516.34 L552.63,518.41 L554.27,520.57 L555.92,522.84 L557.56,525.21 L559.21,527.69 L560.85,530.27 L562.49,532.97 L564.14,535.77 L565.78,538.69 L567.42,541.72 L569.07,544.86 L570.71,548.12 L572.36,551.48 L574,554.95 L575.64,558.53 L577.29,562.21 L578.93,565.98 L580.58,569.84 L582.22,573.78 L583.86,577.8 L585.51,581.88 L587.15,586.02 L588.79,590.2 L590.44,594.41 L592.08,598.63 L593.73,602.85 L595.37,607.06 L597.01,611.23 L598.66,615.35 L600.3,619.4 L601.94,623.37 L603.59,627.23 L605.23,630.97 L606.88,634.56 L608.52,638 L610.16,641.27 L611.81,644.36 L613.45,647.25 L615.09,649.93 L616.74,652.4 L618.38,654.66 L620.02,656.71 L621.67,658.53 L623.31,660.15 L624.96,661.57 L626.6,662.8 L628.24,663.85 L629.89,664.73 L631.53,665.47 L633.17,666.07 L634.82,666.55 L636.46,666.93 L638.11,667.23 L639.75,667.45 L641.39,667.62 L643.04,667.74 L644.68,667.83 L646.33,667.89 L647.97,667.93 L649.61,667.96 L651.26,667.98 L652.9,667.99 L654.54,667.99 L656.19,668 L657.83,668 L659.48,668 L661.12,668 L662.76,668 L664.41,668 L666.05,668 L667.69,668 L669.34,668 L670.98,668 L672.62,668 L674.27,668 L675.91,668 L677.56,668 L679.2,668" fill="none" stroke="#000000" stroke-width="2.3" stroke-linecap="round"/><path d="M416.2,472.48 L417.84,472.53 L419.49,472.58 L421.13,472.63 L422.77,472.69 L424.42,472.75 L426.06,472.81 L427.71,472.88 L429.35,472.95 L430.99,473.02 L432.64,473.1 L434.28,473.18 L435.93,473.27 L437.57,473.36 L439.21,473.45 L440.86,473.55 L442.5,473.66 L444.14,473.77 L445.79,473.89 L447.43,474.02 L449.07,474.15 L450.72,474.29 L452.36,474.43 L454.01,474.59 L455.65,474.75 L457.29,474.92 L458.94,475.1 L460.58,475.29 L462.22,475.49 L463.87,475.7 L465.51,475.92 L467.16,476.16 L468.8,476.41 L470.44,476.67 L472.09,476.94 L473.73,477.23 L475.38,477.53 L477.02,477.85 L478.66,478.19 L480.31,478.54 L481.95,478.92 L483.59,479.31 L485.24,479.72 L486.88,480.16 L488.52,480.62 L490.17,481.1 L491.81,481.61 L493.46,482.14 L495.1,482.7 L496.74,483.29 L498.39,483.91 L500.03,484.57 L501.67,485.25 L503.32,485.97 L504.96,486.73 L506.61,487.53 L508.25,488.36 L509.89,489.24 L511.54,490.16 L513.18,491.12 L514.83,492.13 L516.47,493.2 L518.11,494.31 L519.76,495.48 L521.4,496.7 L523.04,497.98 L524.69,499.32 L526.33,500.72 L527.98,502.18 L529.62,503.71 L531.26,505.32 L532.91,506.99 L534.55,508.73 L536.19,510.55 L537.84,512.45 L539.48,514.42 L541.12,516.48 L542.77,518.62 L544.41,520.85 L546.06,523.16 L547.7,525.56 L549.34,528.04 L550.99,530.62 L552.63,533.28 L554.27,536.04 L555.92,538.89 L557.56,541.82 L559.21,544.85 L560.85,547.96 L562.49,551.16 L564.14,554.44 L565.78,557.8 L567.42,561.23 L569.07,564.74 L570.71,568.32 L572.36,571.96 L574,575.65 L575.64,579.4 L577.29,583.18 L578.93,587 L580.58,590.84 L582.22,594.69 L583.86,598.55 L585.51,602.4 L587.15,606.22 L588.79,610.02 L590.44,613.77 L592.08,617.47 L593.73,621.09 L595.37,624.63 L597.01,628.08 L598.66,631.42 L600.3,634.64 L601.94,637.73 L603.59,640.68 L605.23,643.48 L606.88,646.13 L608.52,648.61 L610.16,650.92 L611.81,653.06 L613.45,655.03 L615.09,656.82 L616.74,658.45 L618.38,659.91 L620.02,661.21 L621.67,662.35 L623.31,663.35 L624.96,664.21 L626.6,664.95 L628.24,665.57 L629.89,666.09 L631.53,666.52 L633.17,666.87 L634.82,667.15 L636.46,667.37 L638.11,667.54 L639.75,667.67 L641.39,667.77 L643.04,667.84 L644.68,667.89 L646.33,667.93 L647.97,667.95 L649.61,667.97 L651.26,667.98 L652.9,667.99 L654.54,667.99 L656.19,668 L657.83,668 L659.48,668 L661.12,668 L662.76,668 L664.41,668 L666.05,668 L667.69,668 L669.34,668 L670.98,668 L672.62,668 L674.27,668 L675.91,668 L677.56,668 L679.2,668" fill="none" stroke="#0000ff" stroke-width="2.3" stroke-linecap="round"/><path d="M416.2,487.04 L417.84,487.08 L419.49,487.12 L421.13,487.16 L422.77,487.21 L424.42,487.26 L426.06,487.31 L427.71,487.37 L429.35,487.43 L430.99,487.49 L432.64,487.55 L434.28,487.62 L435.93,487.69 L437.57,487.77 L439.21,487.85 L440.86,487.93 L442.5,488.02 L444.14,488.12 L445.79,488.22 L447.43,488.32 L449.07,488.43 L450.72,488.55 L452.36,488.67 L454.01,488.8 L455.65,488.93 L457.29,489.08 L458.94,489.23 L460.58,489.39 L462.22,489.55 L463.87,489.73 L465.51,489.92 L467.16,490.11 L468.8,490.32 L470.44,490.54 L472.09,490.77 L473.73,491.01 L475.38,491.26 L477.02,491.53 L478.66,491.81 L480.31,492.11 L481.95,492.42 L483.59,492.75 L485.24,493.1 L486.88,493.47 L488.52,493.85 L490.17,494.25 L491.81,494.68 L493.46,495.13 L495.1,495.6 L496.74,496.09 L498.39,496.61 L500.03,497.16 L501.67,497.74 L503.32,498.34 L504.96,498.98 L506.61,499.64 L508.25,500.35 L509.89,501.08 L511.54,501.85 L513.18,502.67 L514.83,503.52 L516.47,504.41 L518.11,505.35 L519.76,506.33 L521.4,507.36 L523.04,508.43 L524.69,509.56 L526.33,510.74 L527.98,511.98 L529.62,513.27 L531.26,514.62 L532.91,516.03 L534.55,517.5 L536.19,519.04 L537.84,520.65 L539.48,522.32 L541.12,524.06 L542.77,525.87 L544.41,527.76 L546.06,529.72 L547.7,531.76 L549.34,533.87 L550.99,536.06 L552.63,538.33 L554.27,540.68 L555.92,543.11 L557.56,545.62 L559.21,548.2 L560.85,550.87 L562.49,553.61 L564.14,556.42 L565.78,559.31 L567.42,562.27 L569.07,565.3 L570.71,568.39 L572.36,571.53 L574,574.74 L575.64,577.99 L577.29,581.28 L578.93,584.61 L580.58,587.97 L582.22,591.35 L583.86,594.74 L585.51,598.13 L587.15,601.51 L588.79,604.87 L590.44,608.21 L592.08,611.51 L593.73,614.75 L595.37,617.94 L597.01,621.05 L598.66,624.07 L600.3,627 L601.94,629.83 L603.59,632.54 L605.23,635.13 L606.88,637.58 L608.52,639.9 L610.16,642.07 L611.81,644.09 L613.45,645.97 L615.09,647.69 L616.74,649.26 L618.38,650.68 L620.02,651.96 L621.67,653.09 L623.31,654.09 L624.96,654.96 L626.6,655.71 L628.24,656.35 L629.89,656.89 L631.53,657.35 L633.17,657.72 L634.82,658.02 L636.46,658.26 L638.11,658.45 L639.75,658.6 L641.39,658.71 L643.04,658.8 L644.68,658.86 L646.33,658.91 L647.97,658.94 L649.61,658.96 L651.26,658.97 L652.9,658.98 L654.54,658.99 L656.19,658.99 L657.83,659 L659.48,659 L661.12,659 L662.76,659 L664.41,659 L666.05,659 L667.69,659 L669.34,659 L670.98,659 L672.62,659 L674.27,659 L675.91,659 L677.56,659 L679.2,659" fill="none" stroke="#00e000" stroke-width="2.3" stroke-linecap="round"/><path d="M416.2,485.28 L417.84,485.32 L419.49,485.37 L421.13,485.41 L422.77,485.46 L424.42,485.52 L426.06,485.57 L427.71,485.63 L429.35,485.69 L430.99,485.76 L432.64,485.83 L434.28,485.9 L435.93,485.97 L437.57,486.06 L439.21,486.14 L440.86,486.23 L442.5,486.32 L444.14,486.42 L445.79,486.53 L447.43,486.64 L449.07,486.76 L450.72,486.88 L452.36,487.01 L454.01,487.14 L455.65,487.29 L457.29,487.44 L458.94,487.6 L460.58,487.77 L462.22,487.94 L463.87,488.13 L465.51,488.33 L467.16,488.54 L468.8,488.75 L470.44,488.99 L472.09,489.23 L473.73,489.48 L475.38,489.75 L477.02,490.04 L478.66,490.33 L480.31,490.65 L481.95,490.98 L483.59,491.33 L485.24,491.7 L486.88,492.08 L488.52,492.49 L490.17,492.91 L491.81,493.36 L493.46,493.84 L495.1,494.33 L496.74,494.86 L498.39,495.41 L500.03,495.99 L501.67,496.59 L503.32,497.23 L504.96,497.9 L506.61,498.61 L508.25,499.35 L509.89,500.13 L511.54,500.94 L513.18,501.8 L514.83,502.7 L516.47,503.64 L518.11,504.63 L519.76,505.66 L521.4,506.75 L523.04,507.88 L524.69,509.07 L526.33,510.32 L527.98,511.62 L529.62,512.98 L531.26,514.4 L532.91,515.89 L534.55,517.44 L536.19,519.06 L537.84,520.74 L539.48,522.5 L541.12,524.33 L542.77,526.24 L544.41,528.22 L546.06,530.28 L547.7,532.41 L549.34,534.63 L550.99,536.93 L552.63,539.3 L554.27,541.76 L555.92,544.3 L557.56,546.93 L559.21,549.63 L560.85,552.41 L562.49,555.27 L564.14,558.21 L565.78,561.22 L567.42,564.3 L569.07,567.44 L570.71,570.65 L572.36,573.92 L574,577.24 L575.64,580.61 L577.29,584.01 L578.93,587.45 L580.58,590.91 L582.22,594.39 L583.86,597.88 L585.51,601.36 L587.15,604.83 L588.79,608.27 L590.44,611.68 L592.08,615.04 L593.73,618.34 L595.37,621.57 L597.01,624.72 L598.66,627.78 L600.3,630.74 L601.94,633.58 L603.59,636.29 L605.23,638.88 L606.88,641.32 L608.52,643.62 L610.16,645.77 L611.81,647.76 L613.45,649.6 L615.09,651.29 L616.74,652.82 L618.38,654.19 L620.02,655.42 L621.67,656.51 L623.31,657.46 L624.96,658.29 L626.6,659 L628.24,659.6 L629.89,660.1 L631.53,660.52 L633.17,660.86 L634.82,661.14 L636.46,661.36 L638.11,661.53 L639.75,661.66 L641.39,661.76 L643.04,661.83 L644.68,661.88 L646.33,661.92 L647.97,661.95 L649.61,661.97 L651.26,661.98 L652.9,661.99 L654.54,661.99 L656.19,662 L657.83,662 L659.48,662 L661.12,662 L662.76,662 L664.41,662 L666.05,662 L667.69,662 L669.34,662 L670.98,662 L672.62,662 L674.27,662 L675.91,662 L677.56,662 L679.2,662" fill="none" stroke="#ff0000" stroke-width="2.3" stroke-linecap="round"/><path d="M412.2 483.1L420.2 483.1L416.2 490.9Z" fill="#000" stroke="#000" stroke-width="0.8" stroke-linejoin="round"/><path d="M440.4 483.1L448.4 483.1L444.4 490.9Z" fill="#000" stroke="#000" stroke-width="0.8" stroke-linejoin="round"/><path d="M462 483.1L470 483.1L466 490.9Z" fill="#000" stroke="#000" stroke-width="0.8" stroke-linejoin="round"/><path d="M545.1 548.1L553.1 548.1L549.1 555.9Z" fill="#000" stroke="#000" stroke-width="0.8" stroke-linejoin="round"/><path d="M587.8 616.1L595.8 616.1L591.8 623.9Z" fill="#000" stroke="#000" stroke-width="0.8" stroke-linejoin="round"/><path d="M609.2 641.8L617.2 641.8L613.2 649.6Z" fill="#000" stroke="#000" stroke-width="0.8" stroke-linejoin="round"/><path d="M622.2 646.6L630.2 646.6L626.2 654.4Z" fill="#000" stroke="#000" stroke-width="0.8" stroke-linejoin="round"/><path d="M630.8 644.1L638.8 644.1L634.8 651.9Z" fill="#000" stroke="#000" stroke-width="0.8" stroke-linejoin="round"/><path d="M652.2 666.1L660.2 666.1L656.2 673.9Z" fill="#000" stroke="#000" stroke-width="0.8" stroke-linejoin="round"/><path d="M674.5 666.1L682.5 666.1L678.5 673.9Z" fill="#000" stroke="#000" stroke-width="0.8" stroke-linejoin="round"/><path d="M412.45 479.35L419.95 479.35L416.2 486.65Z" fill="none" stroke="#000" stroke-width="1.6" stroke-linejoin="round"/><path d="M440.65 479.35L448.15 479.35L444.4 486.65Z" fill="none" stroke="#000" stroke-width="1.6" stroke-linejoin="round"/><path d="M462.25 479.35L469.75 479.35L466 486.65Z" fill="none" stroke="#000" stroke-width="1.6" stroke-linejoin="round"/><path d="M545.35 533.35L552.85 533.35L549.1 540.65Z" fill="none" stroke="#000" stroke-width="1.6" stroke-linejoin="round"/><path d="M566.65 562.65L574.15 562.65L570.4 569.95Z" fill="none" stroke="#000" stroke-width="1.6" stroke-linejoin="round"/><path d="M588.05 616.55L595.55 616.55L591.8 623.85Z" fill="none" stroke="#000" stroke-width="1.6" stroke-linejoin="round"/><path d="M609.45 622.65L616.95 622.65L613.2 629.95Z" fill="none" stroke="#000" stroke-width="1.6" stroke-linejoin="round"/><path d="M622.45 656.85L629.95 656.85L626.2 664.15Z" fill="none" stroke="#000" stroke-width="1.6" stroke-linejoin="round"/><path d="M631.05 647.95L638.55 647.95L634.8 655.25Z" fill="none" stroke="#000" stroke-width="1.6" stroke-linejoin="round"/><path d="M652.45 666.35L659.95 666.35L656.2 673.65Z" fill="none" stroke="#000" stroke-width="1.6" stroke-linejoin="round"/><path d="M674.75 666.35L682.25 666.35L678.5 673.65Z" fill="none" stroke="#000" stroke-width="1.6" stroke-linejoin="round"/><path d="M416.2 473.95L420.15 477.9L416.2 481.85L412.25 477.9Z" fill="none" stroke="#000" stroke-width="1.5" stroke-linejoin="round"/><path d="M444.4 473.95L448.35 477.9L444.4 481.85L440.45 477.9Z" fill="none" stroke="#000" stroke-width="1.5" stroke-linejoin="round"/><path d="M466 473.95L469.95 477.9L466 481.85L462.05 477.9Z" fill="none" stroke="#000" stroke-width="1.5" stroke-linejoin="round"/><path d="M549.1 482.35L553.05 486.3L549.1 490.25L545.15 486.3Z" fill="none" stroke="#000" stroke-width="1.5" stroke-linejoin="round"/><path d="M570.4 599.75L574.35 603.7L570.4 607.65L566.45 603.7Z" fill="none" stroke="#000" stroke-width="1.5" stroke-linejoin="round"/><path d="M591.8 616.05L595.75 620L591.8 623.95L587.85 620Z" fill="none" stroke="#000" stroke-width="1.5" stroke-linejoin="round"/><path d="M613.2 665.65L617.15 669.6L613.2 673.55L609.25 669.6Z" fill="none" stroke="#000" stroke-width="1.5" stroke-linejoin="round"/><path d="M626.2 656.05L630.15 660L626.2 663.95L622.25 660Z" fill="none" stroke="#000" stroke-width="1.5" stroke-linejoin="round"/><path d="M634.8 656.05L638.75 660L634.8 663.95L630.85 660Z" fill="none" stroke="#000" stroke-width="1.5" stroke-linejoin="round"/><path d="M656.2 658.35L660.15 662.3L656.2 666.25L652.25 662.3Z" fill="none" stroke="#000" stroke-width="1.5" stroke-linejoin="round"/><path d="M678.5 666.05L682.45 670L678.5 673.95L674.55 670Z" fill="none" stroke="#000" stroke-width="1.5" stroke-linejoin="round"/><rect x="411.8" y="476.6" width="8.8" height="8.8" fill="#000"/><rect x="440" y="476.6" width="8.8" height="8.8" fill="#000"/><rect x="461.6" y="476.6" width="8.8" height="8.8" fill="#000"/><rect x="544.7" y="493.2" width="8.8" height="8.8" fill="#000"/><rect x="587.4" y="607.2" width="8.8" height="8.8" fill="#000"/><rect x="608.8" y="644.3" width="8.8" height="8.8" fill="#000"/><rect x="621.8" y="656.3" width="8.8" height="8.8" fill="#000"/><rect x="630.4" y="657.5" width="8.8" height="8.8" fill="#000"/><rect x="651.8" y="665.8" width="8.8" height="8.8" fill="#000"/><rect x="674.1" y="665.8" width="8.8" height="8.8" fill="#000"/><rect x="414.6" y="430.83" width="3.2" height="272.97" fill="#000"/><rect x="414.6" y="697.5" width="264.7" height="3.2" fill="#000"/><rect x="411.7" y="430.83" width="4.5" height="3.2" fill="#000"/><text x="409" y="438.43" font-size="17" text-anchor="end">10</text><rect x="411.7" y="490.09" width="4.5" height="3.2" fill="#000"/><text x="409" y="497.69" font-size="17" text-anchor="end">8</text><rect x="411.7" y="549.35" width="4.5" height="3.2" fill="#000"/><text x="409" y="556.95" font-size="17" text-anchor="end">6</text><rect x="411.7" y="608.61" width="4.5" height="3.2" fill="#000"/><text x="409" y="616.21" font-size="17" text-anchor="end">4</text><rect x="411.7" y="667.87" width="4.5" height="3.2" fill="#000"/><text x="409" y="675.47" font-size="17" text-anchor="end">2</text><rect x="485.5" y="699.1" width="3.2" height="4.7" fill="#000"/><rect x="556.4" y="699.1" width="3.2" height="4.7" fill="#000"/><rect x="627.3" y="699.1" width="3.2" height="4.7" fill="#000"/><text x="416.2" y="721.5" font-size="17" text-anchor="middle">0.002</text><text x="487.1" y="721.5" font-size="17" text-anchor="middle">0.02</text><text x="558" y="721.5" font-size="17" text-anchor="middle">0.2</text><text x="628.9" y="721.5" font-size="17" text-anchor="middle">2</text><text x="547.5" y="746.5" font-size="16.9" text-anchor="middle" textLength="209.4" lengthAdjust="spacingAndGlyphs">EOW concentration (mg/L)</text><text transform="translate(373.8 562.6) rotate(-90)" font-size="17" text-anchor="middle">Log<tspan font-size="12" dy="5">10</tspan><tspan dy="-5" dx="-1"> CFU/mL</tspan></text><text x="363" y="421.3" font-size="37.5">d</text><rect x="605.2" y="450.35" width="18.1" height="2.3" fill="#ff0000"/><path d="M611.05 448.38L617.45 448.38L614.25 454.62Z" fill="#000" stroke="#000" stroke-width="0.8" stroke-linejoin="round"/><text x="631.3" y="456.9" font-size="15.8" textLength="50.6" lengthAdjust="spacingAndGlyphs">pH 6.0</text><rect x="605.2" y="470.25" width="18.1" height="2.3" fill="#00e000"/><path d="M610.88 468.11L617.62 468.11L614.25 474.69Z" fill="none" stroke="#000" stroke-width="1.6" stroke-linejoin="round"/><text x="631.3" y="476.8" font-size="15.8" textLength="50.6" lengthAdjust="spacingAndGlyphs">pH 7.0</text><rect x="605.2" y="488.05" width="18.1" height="2.3" fill="#0000ff"/><path d="M614.25 485.57L617.88 489.2L614.25 492.83L610.62 489.2Z" fill="none" stroke="#000" stroke-width="1.5" stroke-linejoin="round"/><text x="631.3" y="494.6" font-size="15.8" textLength="50.6" lengthAdjust="spacingAndGlyphs">pH 8.4</text><rect x="605.2" y="509.75" width="18.1" height="2.3" fill="#000000"/><rect x="610.07" y="506.72" width="8.36" height="8.36" fill="#000"/><text x="631.3" y="516.3" font-size="15.8" textLength="50.6" lengthAdjust="spacingAndGlyphs">pH 9.2</text></g>
</svg>
</body></html>
